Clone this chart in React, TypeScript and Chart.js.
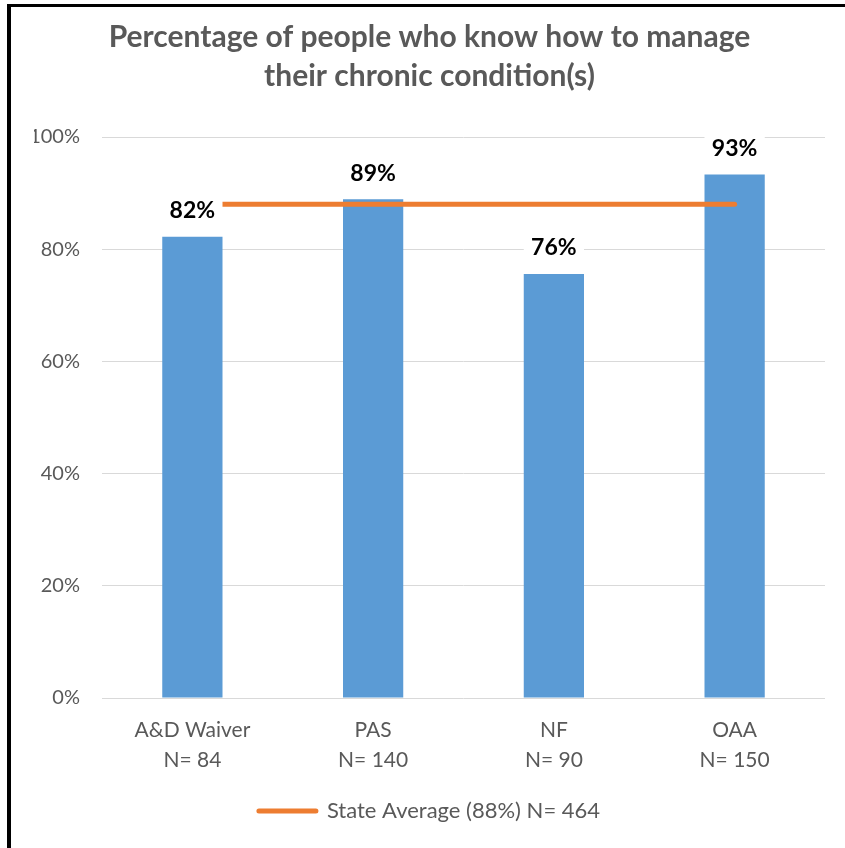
import React, { useEffect, useRef } from "react";
import { Chart, registerables } from "chart.js";

Chart.register(...registerables);

const categories: string[][] = [
  ["A&D Waiver", "N= 84"],
  ["PAS", "N= 140"],
  ["NF", "N= 90"],
  ["OAA", "N= 150"],
];
const percentages: number[] = [82.2, 88.9, 75.6, 93.3];
const stateAverage: number[] = [88, 88, 88, 88];
const stateAverageLabel = "State Average (88%) N= 464";
const titleLines: string[] = [
  "Percentage of people who know how to manage",
  "their chronic condition(s)",
];
const yTicks = { min: 0, max: 100, step: 20 };

const FONT = "Lato, 'Noto Sans', sans-serif";
const GRAY = "#595959";
const BLUE = "#5B9BD5";
const ORANGE = "#ED7D31";
const PAD_LEFT = 34;

const dataLabelPlugin = {
  id: "dataLabels",
  afterDatasetsDraw(chart: any) {
    const ctx = chart.ctx;
    const meta = chart.getDatasetMeta(1);
    const ds = chart.data.datasets[1];
    ctx.save();
    meta.data.forEach((el: any, i: number) => {
      const cy = el.y - 26;
      const w = el.width;
      ctx.fillStyle = "#FFFFFF";
      ctx.fillRect(el.x - w / 2, cy - 14, w, 28);
      ctx.fillStyle = "#000000";
      ctx.font = `bold 23px ${FONT}`;
      ctx.textAlign = "center";
      ctx.textBaseline = "middle";
      ctx.fillText(Math.round(ds.data[i]) + "%", el.x, cy);
    });
    ctx.restore();
  },
};

export default function App() {
  const ref = useRef<HTMLCanvasElement | null>(null);

  useEffect(() => {
    if (!ref.current) return;
    const chart = new Chart(ref.current, {
      type: "bar",
      data: {
        labels: categories,
        datasets: [
          {
            type: "line",
            label: stateAverageLabel,
            data: stateAverage,
            borderColor: ORANGE,
            backgroundColor: ORANGE,
            borderWidth: 5,
            borderCapStyle: "round",
            pointRadius: 0,
            pointHoverRadius: 0,
            fill: false,
            order: 0,
          } as any,
          {
            type: "bar",
            label: "Percent",
            data: percentages,
            backgroundColor: BLUE,
            categoryPercentage: 1,
            barPercentage: 1 / 3,
            order: 1,
          },
        ],
      },
      options: {
        responsive: false,
        animation: false,
        devicePixelRatio: 1,
        layout: { padding: { left: PAD_LEFT, right: 20, top: 0, bottom: 16 } },
        plugins: {
          title: {
            display: true,
            text: titleLines,
            color: GRAY,
            font: { family: FONT, size: 30, weight: "bold", lineHeight: 39 / 30 },
            padding: { top: 17.5, bottom: 41.5 },
          },
          legend: {
            display: true,
            position: "bottom",
            labels: {
              usePointStyle: true,
              pointStyleWidth: 57,
              padding: 10,
              color: GRAY,
              font: { family: FONT, size: 22 },
              generateLabels: () => [
                {
                  text: stateAverageLabel,
                  fillStyle: ORANGE,
                  strokeStyle: ORANGE,
                  lineWidth: 5,
                  lineCap: "round",
                  pointStyle: "line",
                  hidden: false,
                  datasetIndex: 0,
                  fontColor: GRAY,
                } as any,
              ],
            },
          },
          tooltip: { enabled: false },
        },
        scales: {
          x: {
            grid: { display: false },
            border: { display: false },
            ticks: {
              color: GRAY,
              font: { family: FONT, size: 21, lineHeight: 1.4 },
              padding: 10,
              maxRotation: 0,
              autoSkip: false,
            },
            afterFit: (s: any) => {
              s.height = 92;
            },
          },
          y: {
            min: yTicks.min,
            max: yTicks.max,
            grid: { color: "#D9D9D9", lineWidth: 1, drawTicks: false },
            border: { display: false },
            ticks: {
              stepSize: yTicks.step,
              color: GRAY,
              font: { family: FONT, size: 20 },
              padding: 22,
              callback: (v: any) => v + "%",
            },
            afterFit: (s: any) => {
              s.width = 102 - PAD_LEFT;
            },
          },
        },
      },
      plugins: [dataLabelPlugin],
    });
    return () => chart.destroy();
  }, []);

  return (
    <div
      style={{
        position: "fixed",
        left: 0,
        top: 0,
        width: 845,
        height: 848,
        background: "#FFFFFF",
      }}
    >
      <canvas ref={ref} width={845} height={848} style={{ display: "block" }} />
      <div style={{ position: "absolute", left: 7, top: 4, width: 838, height: 3, background: "#000" }} />
      <div style={{ position: "absolute", left: 7, top: 4, width: 4, height: 844, background: "#000" }} />
    </div>
  );
}
